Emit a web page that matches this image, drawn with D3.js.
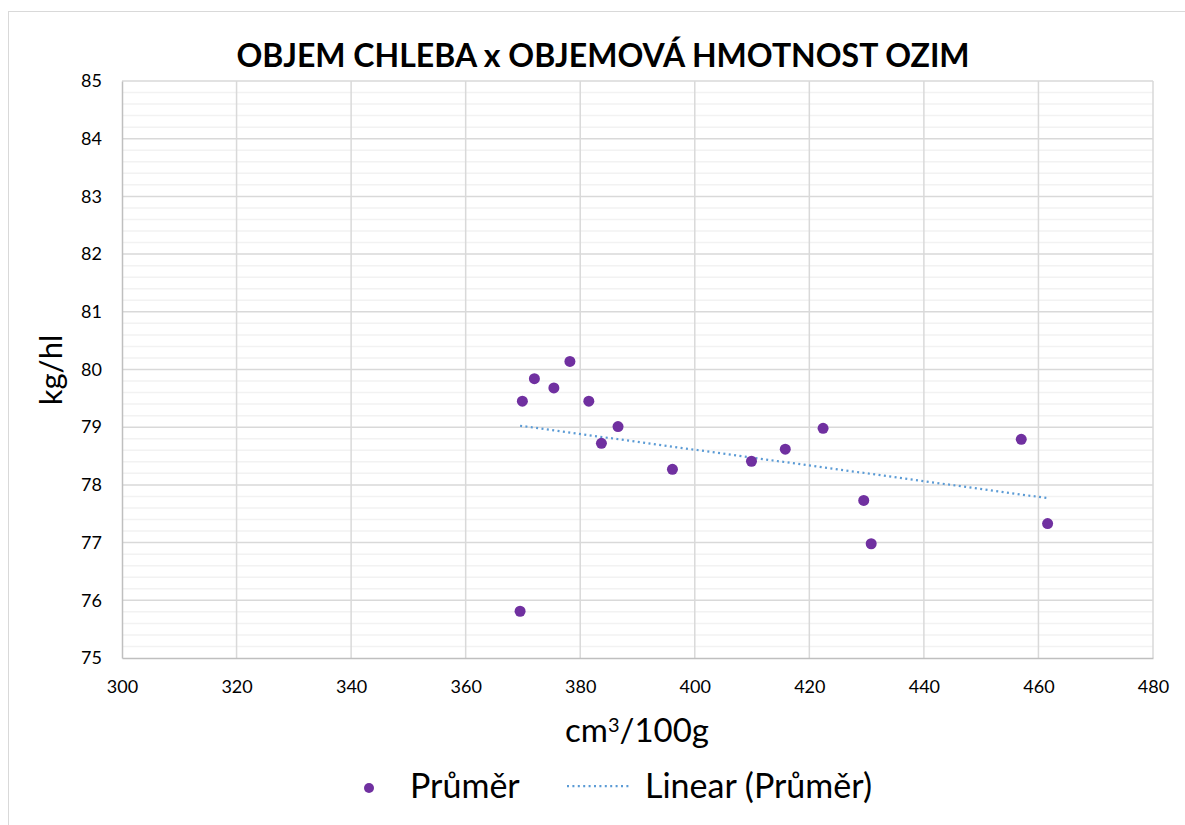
<!DOCTYPE html>
<html>
<head>
<meta charset="utf-8">
<script src="https://cdn.jsdelivr.net/npm/d3@7"></script>
<style>
  body { margin: 0; background: #fff; }
  svg text { font-family: Lato, "Open Sans", sans-serif; fill: #000; }
</style>
</head>
<body>
<svg id="chart" width="1185" height="825"></svg>
<script>
// values
const volumeX = [369.9, 372.0, 375.4, 378.2, 381.5, 386.6, 383.7, 396.1, 409.9, 415.8, 422.4, 429.5, 430.8, 457.0, 461.6, 369.5];
const weightY = [79.45, 79.84, 79.68, 80.14, 79.45, 79.01, 78.72, 78.27, 78.41, 78.62, 78.98, 77.73, 76.98, 78.79, 77.33, 75.81];
const xTicks = [300, 320, 340, 360, 380, 400, 420, 440, 460, 480];
const yTicks = [75, 76, 77, 78, 79, 80, 81, 82, 83, 84, 85];

const titleText = "OBJEM CHLEBA x OBJEMOVÁ HMOTNOST OZIM";
const seriesName = "Průměr";
const trendName = "Linear (Průměr)";

const width = 1185;
const height = 825;
const plot = { left: 122, top: 81, right: 1153, bottom: 658 };

const svg = d3.select("#chart");

svg.append("rect")
  .attr("x", 8.5).attr("y", 11.5)
  .attr("width", width + 20).attr("height", height + 20)
  .attr("fill", "#fff").attr("stroke", "#d9d9d9").attr("stroke-width", 1);

const x = d3.scaleLinear().domain([300, 480]).range([plot.left, plot.right]);
const y = d3.scaleLinear().domain([75, 85]).range([plot.bottom, plot.top]);

// minor horizontal grid, every 0.2
const minorY = d3.range(75, 85.001, 0.2).filter((v) => Math.abs(v - Math.round(v)) > 0.01);
svg.append("g")
  .selectAll("line")
  .data(minorY)
  .join("line")
  .attr("x1", plot.left).attr("x2", plot.right)
  .attr("y1", (d) => y(d)).attr("y2", (d) => y(d))
  .attr("stroke", "#f2f2f2").attr("stroke-width", 1.5);

// major grid
svg.append("g")
  .selectAll("line")
  .data(yTicks.slice(1))
  .join("line")
  .attr("x1", plot.left).attr("x2", plot.right)
  .attr("y1", (d) => y(d)).attr("y2", (d) => y(d))
  .attr("stroke", "#d9d9d9").attr("stroke-width", 1.5);

svg.append("g")
  .selectAll("line")
  .data(xTicks.slice(1))
  .join("line")
  .attr("x1", (d) => x(d)).attr("x2", (d) => x(d))
  .attr("y1", plot.top).attr("y2", plot.bottom)
  .attr("stroke", "#d9d9d9").attr("stroke-width", 1.5);

// axes
const xAxis = d3.axisBottom(x).tickValues(xTicks).tickSize(0).tickPadding(22);
const gx = svg.append("g").attr("transform", `translate(0,${plot.bottom})`).call(xAxis);
gx.select(".domain").attr("stroke", "#bfbfbf").attr("stroke-width", 1.5);
gx.selectAll("text").attr("font-size", 18).attr("font-family", "Lato");

const yAxis = d3.axisLeft(y).tickValues(yTicks).tickSize(0).tickPadding(20);
const gy = svg.append("g").attr("transform", `translate(${plot.left},0)`).call(yAxis);
gy.select(".domain").attr("stroke", "#bfbfbf").attr("stroke-width", 1.5);
gy.selectAll("text").attr("font-size", 18).attr("font-family", "Lato");

// linear trend (least squares of the points)
const mx = d3.mean(volumeX);
const my = d3.mean(weightY);
const sxy = d3.sum(volumeX, (v, i) => (v - mx) * (weightY[i] - my));
const sxx = d3.sum(volumeX, (v) => (v - mx) * (v - mx));
const slope = sxy / sxx;
const intercept = my - slope * mx;
const trendX = d3.extent(volumeX);

svg.append("line")
  .attr("x1", x(trendX[0])).attr("y1", y(intercept + slope * trendX[0]))
  .attr("x2", x(trendX[1])).attr("y2", y(intercept + slope * trendX[1]))
  .attr("stroke", "#5b9bd5").attr("stroke-width", 2.25)
  .attr("stroke-dasharray", "2 3.4");

svg.append("g")
  .selectAll("circle")
  .data(volumeX.map((v, i) => [v, weightY[i]]))
  .join("circle")
  .attr("cx", (d) => x(d[0])).attr("cy", (d) => y(d[1]))
  .attr("r", 5.5)
  .attr("fill", "#7030a0");

// title and axis titles
svg.append("text")
  .attr("x", 603).attr("y", 67)
  .attr("text-anchor", "middle")
  .attr("font-size", 32).attr("font-weight", "bold")
  .text(titleText);

svg.append("text")
  .attr("transform", "translate(62,370) rotate(-90)")
  .attr("text-anchor", "middle")
  .attr("font-size", 31)
  .text("kg/hl");

const xTitle = svg.append("text")
  .attr("x", 637).attr("y", 742)
  .attr("text-anchor", "middle")
  .attr("font-size", 33);
xTitle.append("tspan").text("cm");
xTitle.append("tspan").attr("font-size", 20).attr("dy", -10).text("3");
xTitle.append("tspan").attr("dy", 10).text("/100g");

// legend
const legend = svg.append("g");
legend.append("circle").attr("cx", 369).attr("cy", 788).attr("r", 5).attr("fill", "#7030a0");
legend.append("text").attr("x", 410).attr("y", 798).attr("font-size", 34).text(seriesName);
legend.append("line")
  .attr("x1", 567).attr("x2", 631).attr("y1", 786).attr("y2", 786)
  .attr("stroke", "#5b9bd5").attr("stroke-width", 2.25).attr("stroke-dasharray", "2 3.4");
legend.append("text").attr("x", 645).attr("y", 798).attr("font-size", 34).text(trendName);
</script>
</body>
</html>
